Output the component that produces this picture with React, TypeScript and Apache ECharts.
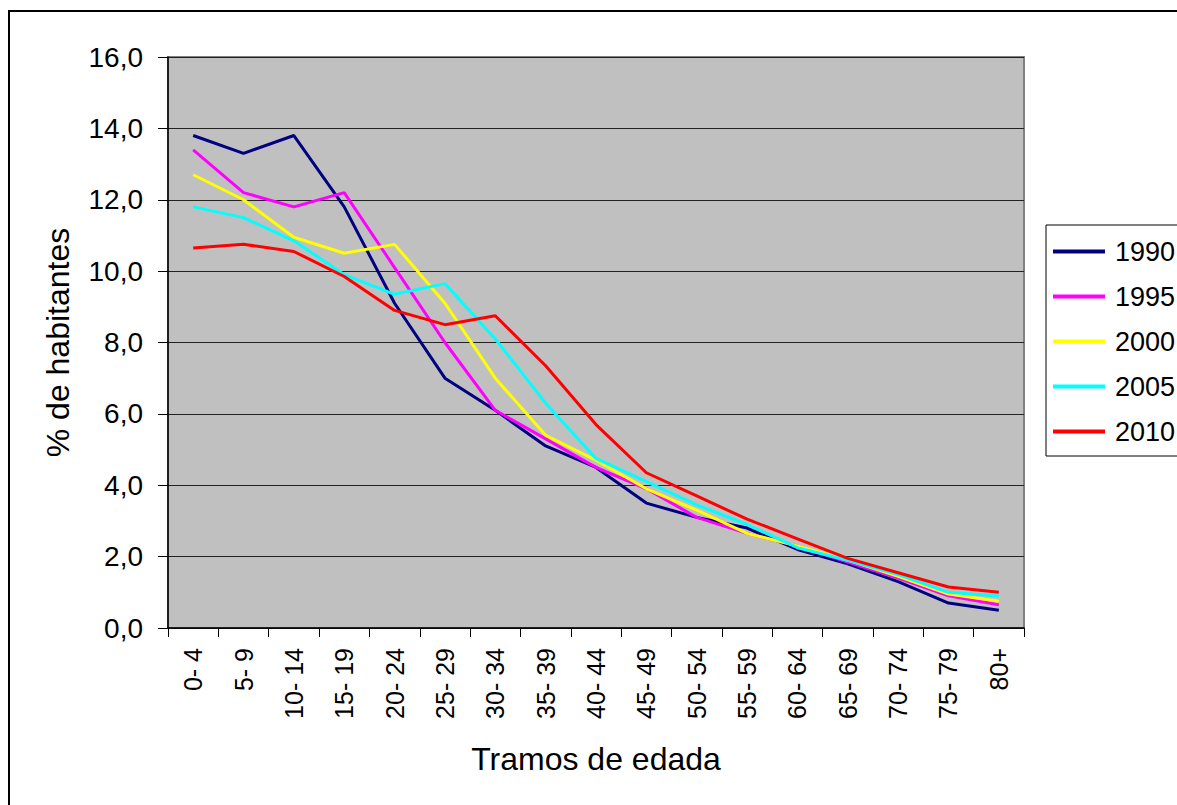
import React, { useEffect, useRef } from "react";
import * as echarts from "echarts";

const categories = ["0- 4", "5- 9", "10- 14", "15- 19", "20- 24", "25- 29", "30- 34", "35- 39", "40- 44", "45- 49", "50- 54", "55- 59", "60- 64", "65- 69", "70- 74", "75- 79", "80+"];
const s1990 = [13.8, 13.3, 13.8, 11.8, 9.1, 7.0, 6.1, 5.1, 4.5, 3.5, 3.1, 2.8, 2.2, 1.8, 1.3, 0.7, 0.5];
const s1995 = [13.4, 12.2, 11.8, 12.2, 10.1, 8.0, 6.1, 5.3, 4.5, 3.9, 3.1, 2.65, 2.3, 1.85, 1.4, 0.9, 0.65];
const s2000 = [12.7, 12.0, 10.95, 10.5, 10.75, 9.1, 7.0, 5.4, 4.7, 3.9, 3.3, 2.65, 2.3, 1.9, 1.45, 0.95, 0.75];
const s2005 = [11.8, 11.5, 10.85, 9.9, 9.35, 9.65, 8.1, 6.3, 4.75, 4.1, 3.45, 2.9, 2.25, 1.9, 1.5, 1.0, 0.9];
const s2010 = [10.65, 10.75, 10.55, 9.85, 8.9, 8.5, 8.75, 7.35, 5.7, 4.35, 3.7, 3.05, 2.5, 1.95, 1.55, 1.15, 1.0];
const seriesNames = ["1990", "1995", "2000", "2005", "2010"];
const seriesData = [s1990, s1995, s2000, s2005, s2010];
const seriesColors = ["#000080", "#FF00FF", "#FFFF00", "#00FFFF", "#FF0000"];

const FONT = "Liberation Sans, Arial, sans-serif";

export default function App() {
  const ref = useRef<HTMLDivElement>(null);
  useEffect(() => {
    if (!ref.current) return;
    const chart = echarts.init(ref.current, undefined, { renderer: "svg" });
    chart.setOption({
      animation: false,
      backgroundColor: "#ffffff",
      textStyle: { fontFamily: FONT },
      graphic: [
        {
          type: "rect",
          z: -10,
          silent: true,
          shape: { x: 9, y: 11, width: 1400, height: 1000 },
          style: { fill: "none", stroke: "#000", lineWidth: 2 },
        },
        {
          type: "rect",
          z: 1,
          silent: true,
          shape: { x: 1046, y: 225, width: 300, height: 231 },
          style: { fill: "#fff", stroke: "#000", lineWidth: 1 },
        },
      ],
      legend: {
        orient: "vertical",
        left: 1053,
        top: 238,
        padding: 0,
        itemWidth: 52,
        itemHeight: 4,
        itemGap: 18,
        icon: "rect",
        z: 5,
        textStyle: { fontFamily: FONT, fontSize: 27, lineHeight: 27, color: "#000", padding: [0, 0, 0, 5] },
        data: seriesNames,
      },
      grid: {
        left: 168,
        top: 57,
        right: 153,
        bottom: 177,
        show: true,
        backgroundColor: "#C0C0C0",
        borderColor: "#808080",
        borderWidth: 2,
      },
      xAxis: {
        type: "category",
        data: categories,
        boundaryGap: true,
        name: "Tramos de edada",
        nameLocation: "middle",
        nameGap: 115,
        nameTextStyle: { fontFamily: FONT, fontSize: 32, color: "#000" },
        axisLine: { lineStyle: { color: "#000", width: 1.5 } },
        axisTick: { show: true, length: 9, inside: false, alignWithLabel: false, lineStyle: { color: "#000" } },
        axisLabel: { rotate: 90, fontFamily: FONT, fontSize: 25, color: "#000", margin: 20, interval: 0 },
        splitLine: { show: false },
      },
      yAxis: {
        type: "value",
        min: 0,
        max: 16,
        interval: 2,
        name: "% de habitantes",
        nameLocation: "middle",
        nameRotate: 90,
        nameGap: 94,
        nameTextStyle: { fontFamily: FONT, fontSize: 32, color: "#000" },
        axisLine: { show: true, lineStyle: { color: "#000", width: 1.5 } },
        axisTick: { show: true, length: 10, inside: false, lineStyle: { color: "#000" } },
        axisLabel: {
          fontFamily: FONT,
          fontSize: 28,
          color: "#000",
          margin: 25,
          formatter: (v: number) => v.toFixed(1).replace(".", ","),
        },
        splitLine: { show: true, lineStyle: { color: "#222", width: 1 } },
      },
      series: seriesNames.map((n, i) => ({
        name: n,
        type: "line",
        data: seriesData[i],
        symbol: "none",
        lineStyle: { color: seriesColors[i], width: 3 },
        itemStyle: { color: seriesColors[i] },
      })),
    });
    return () => chart.dispose();
  }, []);
  return <div ref={ref} style={{ position: "fixed", left: 0, top: 0, width: 1177, height: 805 }} />;
}
